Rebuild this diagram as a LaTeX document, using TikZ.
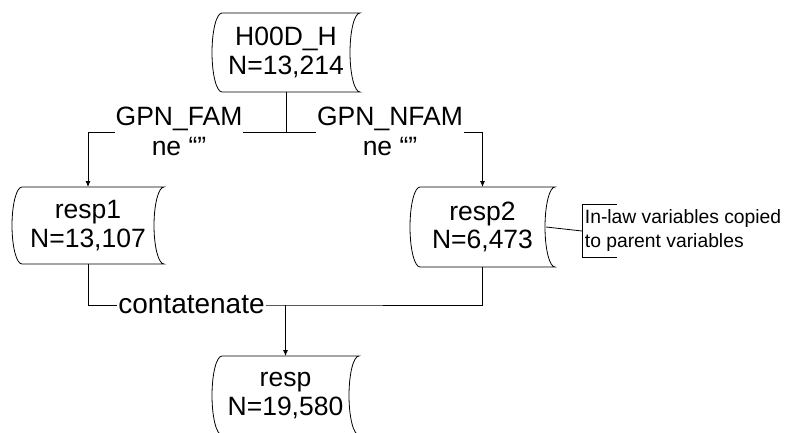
\documentclass[tikz,border=0pt]{standalone}
\usepackage{fontspec}
\setmainfont{Liberation Sans}
\usetikzlibrary{arrows.meta,calc}
\newcommand\storedata[1]{%
  \draw let \p1=(#1.north west), \p2=(#1.south east), \n1={(\y1-\y2)/2} in
    (\x1+10pt,\y1) -- (\x2,\y1)
    arc[start angle=90,end angle=270,x radius=10pt,y radius=\n1]
    -- (\x1+10pt,\y2)
    arc[start angle=270,end angle=90,x radius=10pt,y radius=\n1]
    -- cycle;}
\begin{document}
\begin{tikzpicture}[x=1pt,y=-1pt, line width=0.8pt,
  store/.style={minimum width=#1, minimum height=79pt, inner sep=0pt, outer sep=0pt,
    align=center, font=\fontsize{26.5}{28.5}\selectfont},
  lbl/.style={fill=white, align=center, inner xsep=1pt, inner ysep=0pt,
    font=\fontsize{26.5}{30}\selectfont},
  arr/.style={-{Latex[length=6pt,width=5pt]}},
  notetext/.style={align=left, inner sep=0pt, font=\fontsize{19.3}{24}\selectfont}]
\useasboundingbox (0,0) rectangle (797,433);

% data nodes
\node[store=148pt] (hood) at (286,52.5) {H00D\_H\\N=13,214};
\node[store=152pt, minimum height=77pt] (resp1) at (88,225.5) {resp1\\N=13,107};
\node[store=145pt, minimum height=80pt] (resp2) at (482.5,227) {resp2\\N=6,473};
\node[store=147pt] (resp) at (285.5,395.5) {resp\\N=19,580};
\storedata{hood}
\storedata{resp1}
\storedata{resp2}
\storedata{resp}

% split
\coordinate (j) at (286,132);
\draw (hood.south) -- (j);
\draw[arr] (j) -| (resp1.north);
\draw[arr] (j) -| (resp2.north);
\node[lbl] (famlbl) at (179,131) {GPN\_FAM\\ne “”};
\node[lbl] (nfamlbl) at (390,131) {GPN\_NFAM\\ne “”};

% concatenate
\coordinate (m) at (285.5,305);
\draw (resp1.south) |- (m) -| (resp2.south);
\draw[arr] (m) -- (resp.north);
\node[lbl, anchor=base, font=\fontsize{28}{30}\selectfont] (cat) at (191.5,313) {contatenate};

% note
\coordinate (callout) at (582,231);
\draw ($(resp2.east)+(-9,0)$) -- (callout);
\draw (617,204) -- (582,204) -- (582,257) -- (617,257);
\node[notetext, anchor=west] (inlaw) at (584.5,231) {In-law variables copied\\to parent variables};
\end{tikzpicture}
\end{document}
